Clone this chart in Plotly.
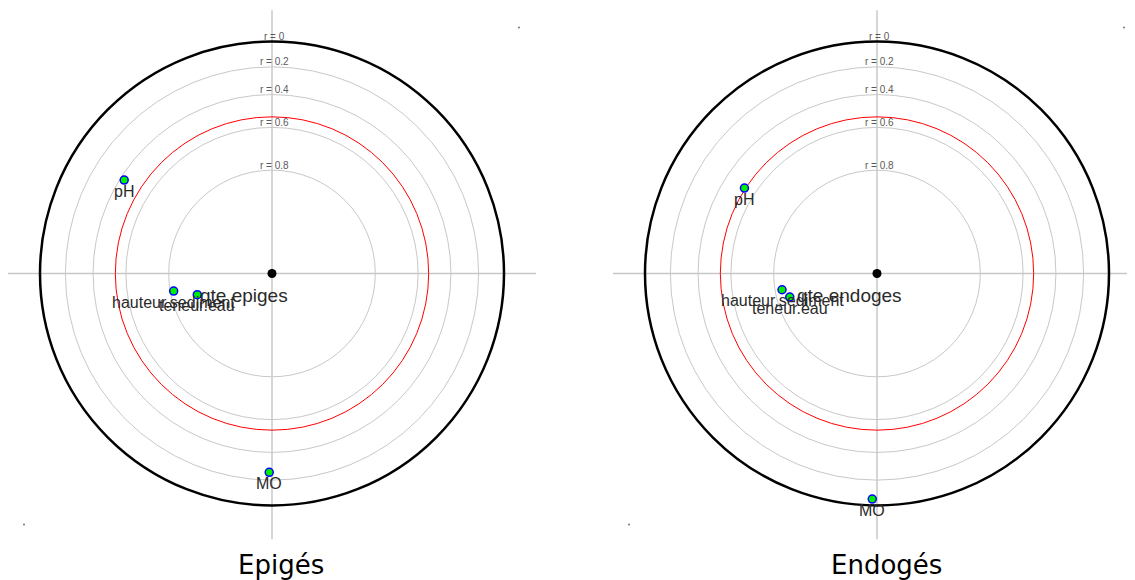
import numpy as np
import plotly.graph_objects as go

# ---- data ----
panel_titles = ["Epigés", "Endogés"]
target_names = ["qte epiges", "qte endoges"]
variables = ["pH", "hauteur.sediment", "teneur.eau", "MO"]
# absolute correlation with the target variable, and angle (degrees) of each variable
corr_epiges = [0.427, 0.813, 0.887, 0.259]
angle_epiges = [147.7, 190.1, 195.8, 269.2]
corr_endoges = [0.534, 0.826, 0.847, 0.046]
angle_endoges = [147.2, 189.7, 195.1, 268.8]
ring_levels = [0.0, 0.2, 0.4, 0.6, 0.8]
ring_labels = ["r = 0", "r = 0.2", "r = 0.4", "r = 0.6", "r = 0.8"]
critical_r = 0.54

PAGE_OFF = 8       # default body margin of the page
W, H = 1135 - PAGE_OFF, 580 - PAGE_OFF
S = 231.0          # px per unit
cy_px = 273.5 - PAGE_OFF
centers_px = [272.0 - PAGE_OFF, 877.0 - PAGE_OFF]
split_px = 567.0 - PAGE_OFF


def radius(r):
    return np.sqrt(1 - abs(r))


fig = go.Figure()

xdomains = [[0, split_px / W], [split_px / W, 1]]
xranges = [[(0 - centers_px[0]) / S, (split_px - centers_px[0]) / S],
           [(split_px - centers_px[1]) / S, (W - centers_px[1]) / S]]
yrange = [-(H - cy_px) / S, cy_px / S]

layout_axes = {}
for i in range(2):
    xa = "xaxis" if i == 0 else "xaxis2"
    ya = "yaxis" if i == 0 else "yaxis2"
    layout_axes[xa] = dict(domain=xdomains[i], range=xranges[i], visible=False, fixedrange=True,
                           anchor="y" if i == 0 else "y2")
    layout_axes[ya] = dict(domain=[0, 1], range=yrange, visible=False, fixedrange=True,
                           anchor="x" if i == 0 else "x2")

shapes = []
annotations = []
panels = [(corr_epiges, angle_epiges), (corr_endoges, angle_endoges)]

for i, (corrs, angles) in enumerate(panels):
    xr = "x" if i == 0 else "x2"
    yr = "y" if i == 0 else "y2"
    ext = 264 / S
    shapes.append(dict(type="line", xref=xr, yref=yr, x0=-ext, x1=ext, y0=0, y1=0,
                       line=dict(color="#c8c8c8", width=1.5), layer="below"))
    shapes.append(dict(type="line", xref=xr, yref=yr, x0=0, x1=0, y0=-1.15, y1=1.14,
                       line=dict(color="#c8c8c8", width=1.5), layer="below"))
    for lev, lab in zip(ring_levels, ring_labels):
        rr = radius(lev)
        if lev == 0:
            rr = 232 / S
            line = dict(color="black", width=2.5)
        else:
            line = dict(color="#c8c8c8", width=1)
        shapes.append(dict(type="circle", xref=xr, yref=yr, x0=-rr, x1=rr, y0=-rr, y1=rr,
                           line=line, layer="below"))
        annotations.append(dict(xref=xr, yref=yr, x=0.012, y=rr, text=lab, showarrow=False,
                                yshift=5, font=dict(family="Liberation Sans, Arial", size=10,
                                                    color="#5a5a5a")))
    rc = radius(critical_r)
    shapes.append(dict(type="circle", xref=xr, yref=yr, x0=-rc, x1=rc, y0=-rc, y1=rc,
                       line=dict(color="red", width=1), layer="below"))

    rad = np.array([radius(c) for c in corrs])
    ang = np.deg2rad(np.array(angles))
    px = rad * np.cos(ang)
    py = rad * np.sin(ang)
    fig.add_trace(go.Scatter(x=px, y=py, mode="markers", xaxis=xr, yaxis=yr,
                             marker=dict(size=8, color="#00ee00",
                                         line=dict(color="blue", width=1.5)),
                             showlegend=False, hoverinfo="text", text=variables))
    for vx, vy, name in zip(px, py, variables):
        annotations.append(dict(xref=xr, yref=yr, x=vx, y=vy, text=name, showarrow=False,
                                yshift=-11, font=dict(family="Liberation Sans, Arial", size=16,
                                                      color="#2a2a2a")))
    fig.add_trace(go.Scatter(x=[0], y=[0], mode="markers", xaxis=xr, yaxis=yr,
                             marker=dict(size=9, color="black"), showlegend=False,
                             hoverinfo="skip"))
    annotations.append(dict(xref=xr, yref=yr, x=-28 / S, y=-22 / S, text=target_names[i],
                            showarrow=False, font=dict(family="Liberation Sans, Arial", size=19,
                                                       color="#2a2a2a")))
    fig.add_trace(go.Scatter(x=[-248 / S, 247 / S], y=[-251 / S, 246 / S], mode="markers",
                             xaxis=xr, yaxis=yr, marker=dict(size=2, color="#777777"),
                             showlegend=False, hoverinfo="skip"))
    annotations.append(dict(xref=xr, yref="paper", x=9 / S, y=(H - (565 - PAGE_OFF)) / H,
                            text=panel_titles[i], showarrow=False, yanchor="middle",
                            font=dict(family="DejaVu Sans, Verdana", size=26, color="black")))

fig.update_layout(width=W, height=H, margin=dict(l=0, r=0, t=0, b=0),
                  paper_bgcolor="white", plot_bgcolor="white",
                  shapes=shapes, annotations=annotations, **layout_axes)

fig.write_html("out.html")
